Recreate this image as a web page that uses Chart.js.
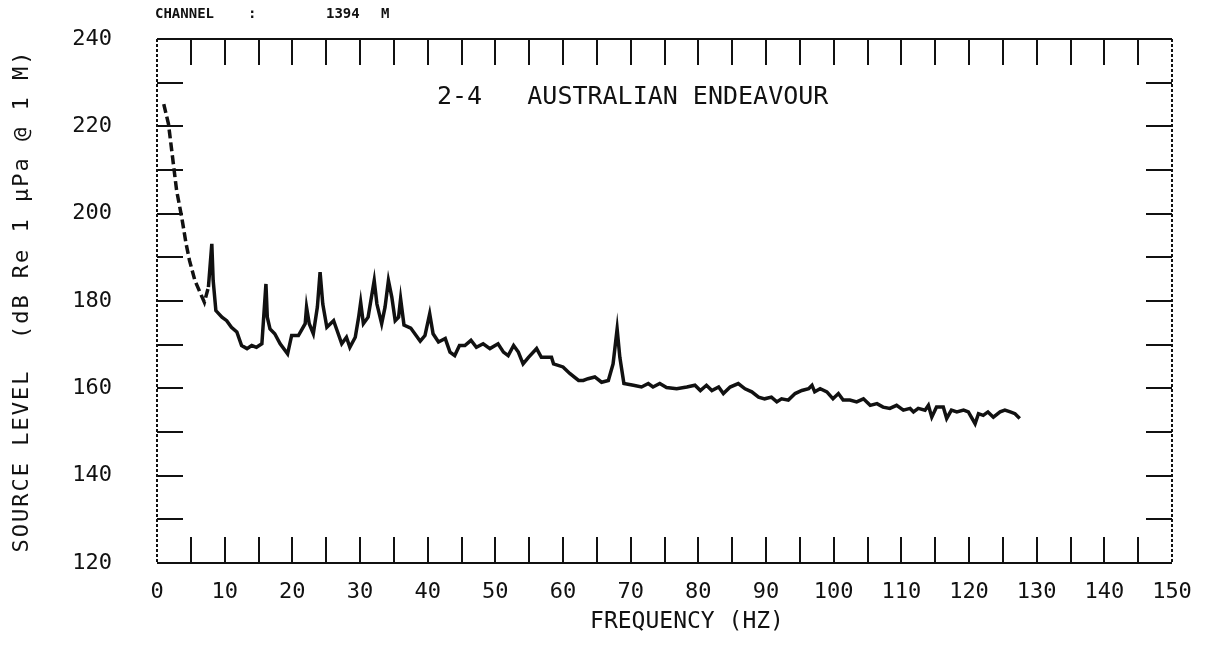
<!DOCTYPE html>
<html lang="en">
  <head>
    <meta charset="UTF-8" />
    <title>Source Level Spectrum</title>
    <style>
      html, body {
        margin: 0;
        padding: 0;
        background: #fff;
      }
      #wrap {
        width: 1207px;
        height: 645px;
      }
    </style>
  </head>
  <body>
    <div id="wrap"><canvas id="spectrum"></canvas></div>
    <script src="https://cdn.jsdelivr.net/npm/chart.js"></script>
    <script>
      // spectrum samples: frequency (Hz) and source level (dB)
      const freqHz = [
        1.0, 1.7, 2.3, 2.9, 3.65, 4.3, 4.8, 5.6, 6.35, 7.0, 7.6, 8.1, 8.3, 8.7, 9.6,
        10.3, 11.0, 11.8, 12.5, 13.3, 14.0, 14.7, 15.5, 16.1, 16.3, 16.7, 17.4, 18.2,
        19.3, 19.9, 20.9, 21.9, 22.1, 22.5, 23.1, 23.7, 24.1, 24.5, 25.1, 26.1, 26.6,
        27.3, 28.0, 28.5, 29.3, 29.8, 30.1, 30.5, 31.2, 32.1, 32.5, 33.2, 33.7, 34.2,
        34.7, 35.2, 35.7, 36.0, 36.5, 37.5, 38.9, 39.6, 40.3, 40.8, 41.6, 42.6, 43.3,
        44.0, 44.7, 45.5, 46.4, 47.2, 48.2, 49.2, 50.4, 51.2, 51.9, 52.7, 53.4, 54.1,
        54.9, 56.1, 56.8, 58.3, 58.6, 60.0, 61.0, 62.3, 63.0, 63.7, 64.7, 65.7, 66.7,
        67.4, 68.0, 68.4, 69.0, 70.4, 71.6, 72.6, 73.3, 74.3, 75.3, 76.8, 78.3, 79.5,
        80.3, 81.2, 82.0, 83.0, 83.7, 84.7, 85.9, 86.9, 87.9, 88.9, 89.8, 90.8, 91.6,
        92.3, 93.3, 94.3, 95.3, 96.3, 96.8, 97.2, 98.0, 99.0, 99.9, 100.7, 101.4,
        102.4, 103.4, 104.4, 105.4, 106.4, 107.3, 108.3, 109.3, 110.3, 111.3, 111.8,
        112.5, 113.5, 114.0, 114.5, 115.2, 116.2, 116.7, 117.4, 118.2, 119.2, 119.9,
        120.9, 121.4, 122.1, 122.8, 123.6, 124.6, 125.3, 126.1, 126.8, 127.5
      ];
      const levelDb = [
        225.1, 220.5, 212.9, 205.3, 199.2, 193.1, 189.3, 184.7, 182.0, 179.7, 183.2, 193.1, 184.7, 177.8, 176.3,
        175.5, 174.0, 172.9, 169.8, 169.1, 169.8, 169.4, 170.2, 183.9, 176.3, 173.6, 172.5, 170.2,
        167.9, 172.1, 172.1, 174.8, 178.6, 174.8, 172.5, 178.6, 186.6, 179.3, 174.0, 175.5, 173.3,
        170.2, 171.7, 169.4, 171.7, 176.3, 179.7, 174.8, 176.3, 184.7, 179.3, 174.8, 178.6, 184.7,
        180.9, 175.5, 176.3, 180.5, 174.5, 173.8, 170.8, 172.1, 177.1, 172.5, 170.6, 171.4, 168.3,
        167.5, 169.8, 169.8, 171.0, 169.4, 170.2, 169.1, 170.2, 168.3, 167.5, 169.8, 168.3, 165.6,
        167.1, 169.1, 167.1, 167.1, 165.6, 164.9, 163.4, 161.8, 161.8, 162.2, 162.6, 161.4, 161.8,
        165.6, 173.6, 167.1, 161.1, 160.7, 160.3, 161.1, 160.3, 161.1, 160.2, 159.9, 160.3, 160.7,
        159.5, 160.7, 159.5, 160.3, 158.8, 160.3, 161.1, 159.9, 159.2, 158.0, 157.6, 158.0, 156.9,
        157.6, 157.3, 158.8, 159.5, 159.9, 160.7, 159.2, 159.9, 159.2, 157.6, 158.8, 157.3,
        157.3, 156.9, 157.6, 156.1, 156.5, 155.7, 155.4, 156.1, 155.0, 155.4, 154.6,
        155.4, 155.0, 156.1, 153.4, 155.7, 155.7, 153.1, 155.0, 154.6, 155.0, 154.6,
        151.9, 154.2, 153.8, 154.6, 153.4, 154.6, 155.0, 154.6, 154.2, 153.1
      ];

      const xLabelStep = 10;
      const yLabelStep = 20;
      const xMinorStep = 5;
      const yMinorStep = 10;

      const plotTitle = "2-4   AUSTRALIAN ENDEAVOUR";
      const xTitle = "FREQUENCY (HZ)";
      const yTitle = "SOURCE LEVEL  (dB Re 1 \u00b5Pa @ 1 M)";

      const points = freqHz.map((f, i) => ({ x: f, y: levelDb[i] }));
      const mono = "'DejaVu Sans Mono', 'Liberation Mono', monospace";

      // frame, inward tick marks and the loose text around the plot
      const plotterFrame = {
        id: "plotterFrame",
        afterDraw(chart) {
          const { ctx, chartArea: a, scales } = chart;
          const xs = scales.x;
          const ys = scales.y;
          ctx.save();
          ctx.strokeStyle = "#111";
          ctx.lineWidth = 2;

          // top and bottom edges solid, sides dotted
          ctx.beginPath();
          ctx.moveTo(a.left, a.top);
          ctx.lineTo(a.right, a.top);
          ctx.moveTo(a.left, a.bottom);
          ctx.lineTo(a.right, a.bottom);
          ctx.stroke();
          ctx.setLineDash([3, 2]);
          ctx.beginPath();
          ctx.moveTo(a.left, a.top);
          ctx.lineTo(a.left, a.bottom);
          ctx.moveTo(a.right, a.top);
          ctx.lineTo(a.right, a.bottom);
          ctx.stroke();
          ctx.setLineDash([]);

          const len = 26;
          ctx.beginPath();
          for (let v = ys.min + yMinorStep; v < ys.max; v += yMinorStep) {
            const py = Math.round(ys.getPixelForValue(v));
            ctx.moveTo(a.left, py);
            ctx.lineTo(a.left + len, py);
            ctx.moveTo(a.right - len, py);
            ctx.lineTo(a.right, py);
          }
          for (let v = xs.min + xMinorStep; v < xs.max; v += xMinorStep) {
            const px = Math.round(xs.getPixelForValue(v));
            ctx.moveTo(px, a.top);
            ctx.lineTo(px, a.top + len);
            ctx.moveTo(px, a.bottom - len);
            ctx.lineTo(px, a.bottom);
          }
          ctx.stroke();

          ctx.fillStyle = "#111";
          ctx.textBaseline = "middle";

          // header line
          ctx.font = "bold 14px " + mono;
          ctx.textAlign = "left";
          ctx.fillText("CHANNEL", 155, 14);
          ctx.fillText(":", 248, 14);
          ctx.fillText("1394", 326, 14);
          ctx.fillText("M", 381, 14);

          // plot title inside the frame
          ctx.font = "25px " + mono;
          ctx.fillText(plotTitle, 437, 97);

          // axis titles
          ctx.font = "23px " + mono;
          ctx.textAlign = "center";
          ctx.fillText(xTitle, 687, 622);

          ctx.translate(22, 301);
          ctx.rotate(-Math.PI / 2);
          ctx.font = "22px " + mono;
          ctx.letterSpacing = "2px";
          ctx.fillText(yTitle, 0, 0);
          ctx.restore();
        }
      };

      const ctx = document.getElementById("spectrum").getContext("2d");

      new Chart(ctx, {
        type: "line",
        data: {
          datasets: [
            {
              data: points,
              borderColor: "#111",
              borderWidth: 3.5,
              pointRadius: 0,
              tension: 0,
              fill: false,
              segment: {
                borderDash: (c) => (c.p1.parsed.x <= 7.6 ? [9, 4] : undefined)
              }
            }
          ]
        },
        options: {
          responsive: true,
          maintainAspectRatio: false,
          animation: false,
          layout: { padding: { left: 0, right: 35, top: 39, bottom: 0 } },
          plugins: {
            legend: { display: false },
            tooltip: { enabled: false }
          },
          scales: {
            x: {
              type: "linear",
              min: 0,
              max: 150,
              grid: { display: false },
              border: { display: false },
              ticks: {
                stepSize: xLabelStep,
                padding: 8,
                color: "#111",
                maxRotation: 0,
                font: { family: mono, size: 22 }
              },
              afterFit: (s) => {
                s.height = 82;
              }
            },
            y: {
              min: 120,
              max: 240,
              // tick marks are not drawn, the length only spaces the labels off the frame
              grid: { display: false, drawTicks: true, tickLength: 45 },
              border: { display: false },
              ticks: {
                stepSize: yLabelStep,
                padding: 0,
                color: "#111",
                font: { family: mono, size: 22 }
              },
              afterFit: (s) => {
                s.width = 157;
              }
            }
          }
        },
        plugins: [plotterFrame]
      });
    </script>
  </body>
</html>
